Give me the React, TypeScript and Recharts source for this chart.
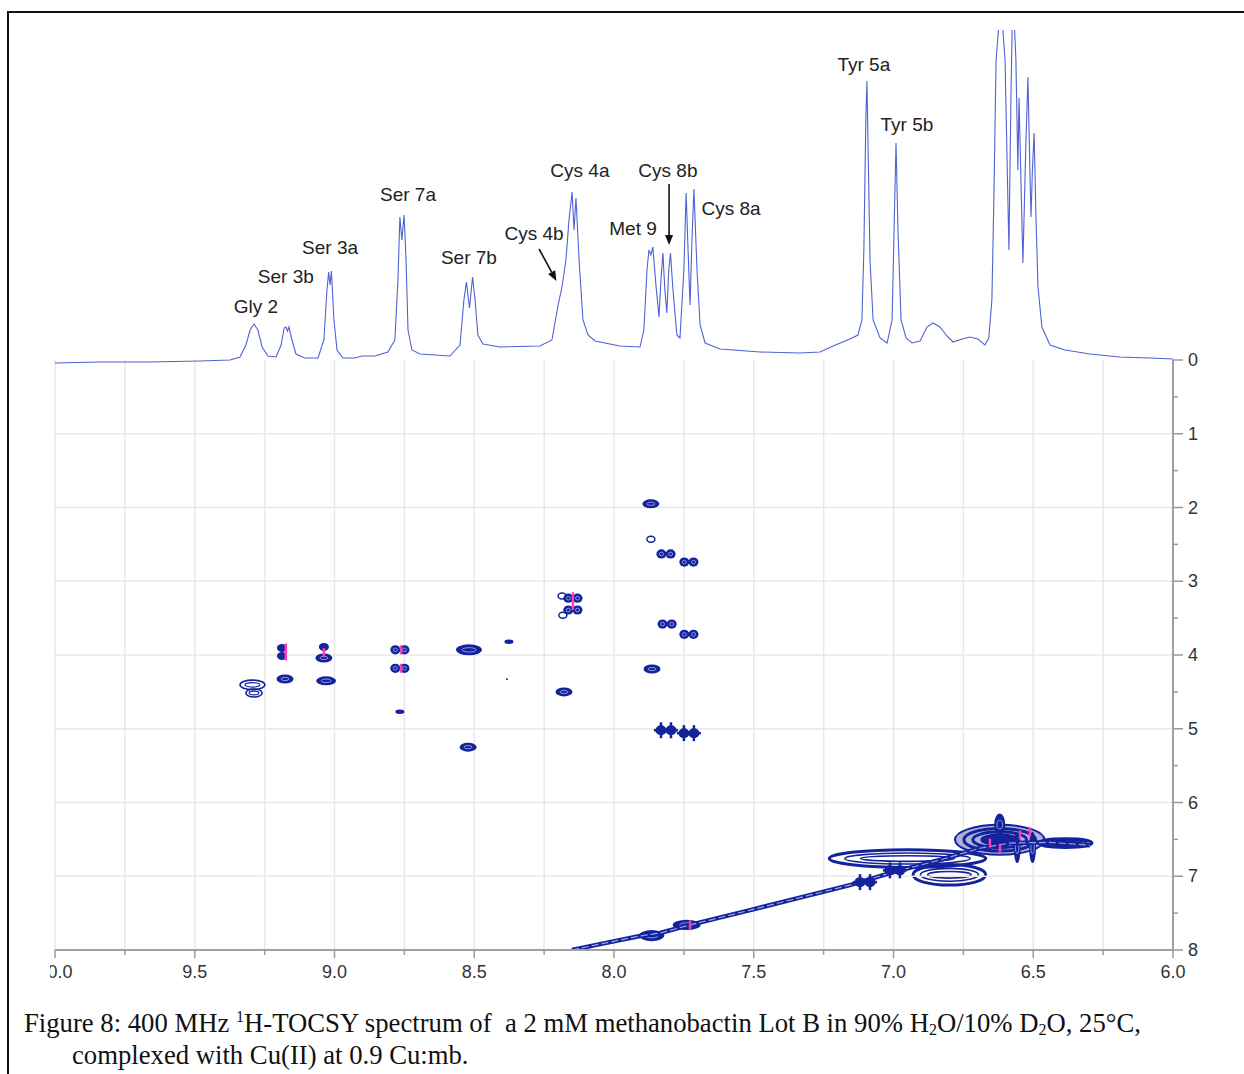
import React from 'react';
import {
  ComposedChart, Line, Scatter, XAxis, YAxis, CartesianGrid,
  ReferenceLine, ReferenceArea, ReferenceDot,
} from 'recharts';

const NAVY = '#14239b';
const PINK = '#ff3cb4';
const TRACE = '#4f62d3';
const SANS = '"Liberation Sans", Arial, sans-serif';

// F2 axis (ppm): ticks every 0.25, labels every 0.5
const xTicks = [10, 9.75, 9.5, 9.25, 9, 8.75, 8.5, 8.25, 8, 7.75, 7.5, 7.25, 7, 6.75, 6.5, 6.25, 6];
// F1 axis (ppm): ticks every 0.5, labels on whole numbers
const yTicks = [0, 0.5, 1, 1.5, 2, 2.5, 3, 3.5, 4, 4.5, 5, 5.5, 6, 6.5, 7, 7.5, 8];
const f1GridLines = [1, 2, 3, 4, 5, 6, 7];

// 1D proton trace on top: [ppm, intensity]
const trace1D = [
  [10.0, 2], [9.839, 3], [9.66, 3], [9.481, 4], [9.374, 5], [9.338, 8], [9.317, 20],
  [9.302, 35], [9.288, 41], [9.274, 35], [9.259, 18], [9.238, 9], [9.209, 8], [9.191, 20],
  [9.18, 37], [9.174, 38], [9.168, 34], [9.163, 38], [9.152, 25], [9.138, 11], [9.106, 7],
  [9.059, 7], [9.038, 25], [9.027, 75], [9.021, 93], [9.016, 80], [9.011, 94], [9.002, 45],
  [8.991, 15], [8.97, 7], [8.927, 7], [8.902, 9], [8.855, 9], [8.809, 13], [8.784, 25],
  [8.773, 85], [8.766, 148], [8.759, 125], [8.751, 150], [8.744, 105], [8.737, 35],
  [8.723, 15], [8.694, 11], [8.587, 9], [8.551, 20], [8.537, 65], [8.528, 83], [8.517, 57],
  [8.506, 88], [8.497, 65], [8.487, 30], [8.469, 21], [8.408, 18], [8.265, 19], [8.222, 25],
  [8.2, 60], [8.186, 78], [8.172, 105], [8.161, 145], [8.15, 173], [8.143, 135], [8.136, 167],
  [8.125, 105], [8.111, 45], [8.093, 30], [8.068, 24], [7.979, 19], [7.907, 18], [7.893, 35],
  [7.882, 95], [7.875, 115], [7.868, 110], [7.861, 118], [7.85, 80], [7.839, 48], [7.832, 85],
  [7.825, 112], [7.818, 75], [7.811, 52], [7.804, 95], [7.798, 112], [7.789, 75], [7.775, 30],
  [7.764, 27], [7.75, 95], [7.742, 172], [7.735, 115], [7.728, 60], [7.721, 125], [7.714, 176],
  [7.703, 95], [7.692, 40], [7.674, 22], [7.621, 16], [7.478, 13], [7.335, 12], [7.263, 13],
  [7.216, 19], [7.156, 26], [7.127, 30], [7.113, 45], [7.106, 115], [7.099, 245], [7.095, 284],
  [7.092, 235], [7.084, 105], [7.073, 45], [7.048, 27], [7.023, 22], [7.005, 45], [6.998, 135],
  [6.991, 222], [6.984, 135], [6.973, 45], [6.955, 27], [6.934, 22], [6.905, 24], [6.88, 38],
  [6.859, 42], [6.834, 38], [6.809, 29], [6.787, 23], [6.755, 26], [6.726, 28], [6.698, 26],
  [6.673, 20], [6.659, 27], [6.648, 65], [6.641, 165], [6.633, 305], [6.616, 365], [6.601, 305],
  [6.587, 115], [6.58, 265], [6.573, 375], [6.562, 305], [6.555, 195], [6.551, 267], [6.544, 185],
  [6.537, 102], [6.527, 215], [6.519, 288], [6.512, 195], [6.508, 148], [6.503, 195], [6.497, 232],
  [6.49, 145], [6.483, 78], [6.469, 38], [6.44, 20], [6.386, 15], [6.297, 11], [6.19, 8],
  [6.082, 7], [6.0, 6],
];

// assignment labels on the 1D trace: [name, ppm, intensity]
const peakLabels = [
  ['Gly 2', 9.281, 59], ['Ser 3b', 9.174, 89], ['Ser 3a', 9.016, 118], ['Ser 7a', 8.737, 171],
  ['Ser 7b', 8.519, 108], ['Cys 4b', 8.286, 132], ['Cys 4a', 8.122, 195], ['Cys 8b', 7.807, 195],
  ['Met 9', 7.932, 137], ['Cys 8a', 7.581, 157], ['Tyr 5a', 7.106, 301], ['Tyr 5b', 6.952, 241],
];

// arrows: [fromPpm, fromInt, toPpm, toInt]
const labelArrows = [
  [8.268, 116, 8.206, 84],
  [7.803, 181, 7.803, 120],
];

// TOCSY cross peaks: [F2 ppm, F1 ppm, contour kind]
const crossPeaks = [
  [9.188, 3.905, 'small'], [9.188, 4.014, 'small'], [9.177, 4.325, 'oval'],
  [9.038, 3.89, 'small'], [9.038, 4.04, 'oval'], [9.03, 4.35, 'wide'],
  [8.766, 3.93, 'doublet'], [8.766, 4.18, 'doublet'], [8.766, 4.77, 'dash'],
  [8.519, 3.93, 'big'], [8.522, 5.25, 'oval'], [8.376, 3.82, 'dash'], [8.383, 4.33, 'dot'],
  [8.147, 3.23, 'doublet'], [8.147, 3.39, 'doublet'], [8.186, 3.2, 'open'], [8.183, 3.46, 'open'],
  [8.179, 4.5, 'oval'],
  [7.868, 1.95, 'oval'], [7.868, 2.43, 'open'], [7.814, 2.63, 'doublet'], [7.732, 2.74, 'doublet'],
  [7.81, 3.58, 'doublet'], [7.732, 3.72, 'doublet'], [7.864, 4.19, 'oval'],
  [7.814, 5.02, 'star'], [7.732, 5.06, 'star'],
  [7.102, 7.08, 'star'], [6.995, 6.92, 'star'],
];

// diagonal ridge: [F2 ppm, F1 ppm]
const diagonal = [
  [8.15, 8.0], [8.05, 7.92], [7.907, 7.81], [7.835, 7.77], [7.728, 7.66], [7.513, 7.46],
  [7.335, 7.29], [7.156, 7.12], [6.998, 6.94], [6.834, 6.78], [6.691, 6.62], [6.583, 6.55],
  [6.44, 6.54], [6.297, 6.58],
];

// broad contour regions: [F2 from, F2 to, F1 from, F1 to, kind]
const contourBlobs = [
  [9.338, 9.249, 4.34, 4.47, 'thin'], [9.317, 9.259, 4.46, 4.57, 'thin'],
  [7.91, 7.82, 7.73, 7.88, 'fill'], [7.79, 7.69, 7.59, 7.73, 'fill'],
  [7.23, 6.67, 6.64, 6.88, 'ring'], [6.93, 6.67, 6.84, 7.12, 'ring'],
  [6.78, 6.46, 6.25, 6.76, 'dense'], [6.48, 6.29, 6.49, 6.61, 'ring'],
  [6.64, 6.6, 6.15, 6.45, 'fill'], [6.57, 6.545, 6.4, 6.82, 'fill'], [6.515, 6.49, 6.4, 6.82, 'fill'],
];

// pink (negative) contour spots: [F2 ppm, F1 ppm]
const pinkSpots = [
  [9.174, 3.905], [9.174, 4.014], [9.038, 3.965], [8.762, 3.93], [8.762, 4.18],
  [8.147, 3.21], [8.147, 3.33], [7.728, 7.66], [6.547, 6.44], [6.512, 6.4], [6.619, 6.62], [6.655, 6.55],
];

const traceData = trace1D.map(([ppm, h]) => ({ ppm, h }));
const diagData = diagonal.map(([f2, f1]) => ({ f2, f1 }));
const peakData = crossPeaks.map(([f2, f1, kind]) => ({ f2, f1, kind }));
const pinkData = pinkSpots.map(([f2, f1]) => ({ f2, f1 }));

function PeakShape(props: any) {
  const { cx, cy, payload } = props;
  const core = '#8a95df';
  switch (payload.kind) {
    case 'doublet':
      return (
        <g>
          <ellipse cx={cx - 4.6} cy={cy} rx={5} ry={4.6} fill={NAVY} />
          <ellipse cx={cx + 4.6} cy={cy} rx={5} ry={4.6} fill={NAVY} />
          <ellipse cx={cx - 4.6} cy={cy} rx={2} ry={1.8} fill="none" stroke={core} />
          <ellipse cx={cx + 4.6} cy={cy} rx={2} ry={1.8} fill="none" stroke={core} />
        </g>
      );
    case 'star':
      return (
        <g stroke={NAVY} strokeWidth={2.5}>
          <line x1={cx - 12} y1={cy} x2={cx + 12} y2={cy} />
          <line x1={cx - 5} y1={cy - 8} x2={cx - 5} y2={cy + 8} />
          <line x1={cx + 5} y1={cy - 8} x2={cx + 5} y2={cy + 8} />
          <ellipse cx={cx - 5} cy={cy} rx={5.5} ry={5} fill={NAVY} stroke="none" />
          <ellipse cx={cx + 5} cy={cy} rx={5.5} ry={5} fill={NAVY} stroke="none" />
        </g>
      );
    case 'big':
      return (
        <g>
          <ellipse cx={cx} cy={cy} rx={13} ry={5.5} fill={NAVY} />
          <ellipse cx={cx} cy={cy} rx={7} ry={2.2} fill="none" stroke={core} />
        </g>
      );
    case 'wide':
      return (
        <g>
          <ellipse cx={cx} cy={cy} rx={10} ry={4.5} fill={NAVY} />
          <ellipse cx={cx} cy={cy} rx={5} ry={1.8} fill="none" stroke={core} />
        </g>
      );
    case 'oval':
      return (
        <g>
          <ellipse cx={cx} cy={cy} rx={8.5} ry={4.5} fill={NAVY} />
          <ellipse cx={cx} cy={cy} rx={4} ry={1.6} fill="none" stroke={core} />
        </g>
      );
    case 'small':
      return <ellipse cx={cx} cy={cy} rx={5} ry={4} fill={NAVY} />;
    case 'dash':
      return <ellipse cx={cx} cy={cy} rx={4.5} ry={2.2} fill={NAVY} />;
    case 'open':
      return <ellipse cx={cx} cy={cy} rx={4} ry={3} fill="none" stroke={NAVY} strokeWidth={1.5} />;
    default:
      return <circle cx={cx} cy={cy} r={1} fill={NAVY} />;
  }
}

function PinkShape(props: any) {
  const { cx, cy } = props;
  return <line x1={cx} y1={cy - 4.5} x2={cx} y2={cy + 4.5} stroke={PINK} strokeWidth={2.5} />;
}

function blobShape(kind: string) {
  return (p: any) => {
    const { x, y, width, height } = p;
    const cx = x + width / 2;
    const cy = y + height / 2;
    const rx = width / 2;
    const ry = height / 2;
    if (kind === 'fill') {
      return (
        <g>
          <ellipse cx={cx} cy={cy} rx={rx} ry={ry} fill={NAVY} />
          <ellipse cx={cx} cy={cy} rx={rx * 0.5} ry={ry * 0.4} fill="none" stroke="#8a95df" />
        </g>
      );
    }
    if (kind === 'dense') {
      return (
        <g fill="none" stroke={NAVY}>
          <ellipse cx={cx} cy={cy} rx={rx} ry={ry * 0.8} strokeWidth={2} fill="rgba(20,35,155,0.35)" />
          <ellipse cx={cx} cy={cy} rx={rx * 0.8} ry={ry * 0.6} strokeWidth={3} />
          <ellipse cx={cx} cy={cy} rx={rx * 0.6} ry={ry * 0.42} strokeWidth={3} />
          <ellipse cx={cx} cy={cy} rx={rx * 0.4} ry={ry * 0.25} strokeWidth={3} fill={NAVY} />
        </g>
      );
    }
    if (kind === 'thin') {
      return (
        <g fill="none" stroke={NAVY}>
          <ellipse cx={cx} cy={cy} rx={rx} ry={ry} strokeWidth={1.6} />
          <ellipse cx={cx} cy={cy} rx={rx * 0.6} ry={ry * 0.45} strokeWidth={1.2} />
        </g>
      );
    }
    return (
      <g fill="none" stroke={NAVY}>
        <ellipse cx={cx} cy={cy} rx={rx} ry={ry} strokeWidth={3} />
        <ellipse cx={cx} cy={cy} rx={rx * 0.8} ry={ry * 0.62} strokeWidth={1.6} />
        <ellipse cx={cx} cy={cy} rx={rx * 0.6} ry={ry * 0.32} strokeWidth={1.6} />
      </g>
    );
  };
}

function arrowShape(p: any) {
  const { x1, y1, x2, y2 } = p;
  const a = Math.atan2(y2 - y1, x2 - x1);
  const L = 10;
  const W = 4;
  const bx = x2 - L * Math.cos(a);
  const by = y2 - L * Math.sin(a);
  const px = -Math.sin(a) * W;
  const py = Math.cos(a) * W;
  return (
    <g>
      <line x1={x1} y1={y1} x2={bx} y2={by} stroke="#111" strokeWidth={1.6} />
      <polygon points={`${x2},${y2} ${bx + px},${by + py} ${bx - px},${by - py}`} fill="#111" />
    </g>
  );
}

function XTick(props: any) {
  const { x, y, payload } = props;
  const v = payload.value;
  const major = Math.abs(v * 2 - Math.round(v * 2)) < 1e-6;
  return (
    <g>
      <line x1={x} y1={y} x2={x} y2={y + (major ? 8 : 5)} stroke="#9a9a9a" strokeWidth={1.5} />
      {major && (
        <text x={x} y={y + 22} textAnchor="middle" dominantBaseline="central"
          fontFamily={SANS} fontSize={18} fill="#333">
          {v.toFixed(1)}
        </text>
      )}
    </g>
  );
}

function YTick(props: any) {
  const { x, y, payload } = props;
  const v = payload.value;
  const major = Number.isInteger(v);
  return (
    <g>
      <line x1={x} y1={y} x2={x + (major ? 10 : 5)} y2={y} stroke="#9a9a9a" strokeWidth={1.5} />
      {major && (
        <text x={x + 15} y={y} textAnchor="start" dominantBaseline="central"
          fontFamily={SANS} fontSize={18} fill="#333">
          {v}
        </text>
      )}
    </g>
  );
}

const supStyle: React.CSSProperties = { fontSize: 16, verticalAlign: 'baseline', position: 'relative', top: -10 };
const subStyle: React.CSSProperties = { fontSize: 16, verticalAlign: 'baseline', position: 'relative', top: 3 };

export default function App() {
  return (
    <div style={{ position: 'absolute', left: 0, top: 0, width: 1244, height: 1074, overflow: 'hidden', background: '#fff' }}>
      {/* frame */}
      <div style={{ position: 'absolute', left: 7, top: 11, width: 1300, height: 1200, borderLeft: '2px solid #111', borderTop: '2px solid #111' }} />

      {/* 2D TOCSY contour map */}
      <div style={{ position: 'absolute', left: 0, top: 0 }}>
        <ComposedChart width={1244} height={1000} margin={{ top: 360, right: 0, bottom: 0, left: 55 }}>
          <CartesianGrid horizontal={false} stroke="#e8e8e8" strokeWidth={1.5} />
          <XAxis type="number" dataKey="f2" domain={[6, 10]} reversed ticks={xTicks} interval={0}
            height={50} tick={<XTick />} tickLine={false} tickSize={0} tickMargin={0}
            axisLine={{ stroke: '#a0a0a0', strokeWidth: 2 }} allowDataOverflow />
          <YAxis type="number" dataKey="f1" orientation="right" domain={[0, 8]} reversed ticks={yTicks}
            interval={0} width={71} tick={<YTick />} tickLine={false} tickSize={0} tickMargin={0}
            axisLine={{ stroke: '#a0a0a0', strokeWidth: 2 }} allowDataOverflow />
          {f1GridLines.map((v) => (
            <ReferenceLine key={v} y={v} stroke="#e8e8e8" strokeWidth={1.5} />
          ))}
          {contourBlobs.map(([a, b, c, d, kind], i) => (
            <ReferenceArea key={i} x1={a as number} x2={b as number} y1={c as number} y2={d as number}
              shape={blobShape(kind as string)} />
          ))}
          <Line data={diagData} dataKey="f1" type="linear" stroke={NAVY} strokeWidth={4.5} dot={false}
            isAnimationActive={false} />
          <Line data={diagData} dataKey="f1" type="linear" stroke="#9aa4e6" strokeWidth={1.2}
            strokeDasharray="7 3" dot={false} isAnimationActive={false} />
          <Scatter data={peakData} shape={PeakShape} isAnimationActive={false} />
          <Scatter data={pinkData} shape={PinkShape} isAnimationActive={false} />
        </ComposedChart>
      </div>

      {/* 1D projection on top */}
      <div style={{ position: 'absolute', left: 0, top: 0 }}>
        <ComposedChart width={1244} height={365} data={traceData} margin={{ top: 30, right: 71, bottom: 0, left: 55 }}>
          <XAxis type="number" dataKey="ppm" domain={[6, 10]} reversed hide allowDataOverflow />
          <YAxis type="number" domain={[0, 335]} hide allowDataOverflow />
          <Line dataKey="h" type="linear" stroke={TRACE} strokeWidth={1.1} dot={false} isAnimationActive={false} />
          {peakLabels.map(([name, ppm, h]) => (
            <ReferenceDot key={name as string} x={ppm as number} y={h as number} r={0}
              shape={(p: any) => (
                <text x={p.cx} y={p.cy} textAnchor="middle" dominantBaseline="central"
                  fontFamily={SANS} fontSize={19} fill="#222">
                  {name}
                </text>
              )} />
          ))}
          {labelArrows.map(([a, b, c, d], i) => (
            <ReferenceLine key={i} segment={[{ x: a, y: b }, { x: c, y: d }]} shape={arrowShape} />
          ))}
        </ComposedChart>
      </div>

      {/* left part of the 10.0 label is cut off in the original */}
      <div style={{ position: 'absolute', left: 9, top: 955, width: 41, height: 35, background: '#fff' }} />

      <div style={{
        position: 'absolute', left: 24, top: 1009, fontFamily: '"Liberation Serif", "Times New Roman", serif',
        fontSize: 26.7, lineHeight: '28px', color: '#111', whiteSpace: 'pre',
      }}>
        <div>Figure 8: 400 MHz <span style={supStyle}>1</span>H-TOCSY spectrum of  a 2 mM methanobactin Lot B in 90% H<span style={subStyle}>2</span>O/10% D<span style={subStyle}>2</span>O, 25°C,</div>
        <div style={{ paddingLeft: 48 }}>complexed with Cu(II) at 0.9 Cu:mb.</div>
      </div>
    </div>
  );
}
